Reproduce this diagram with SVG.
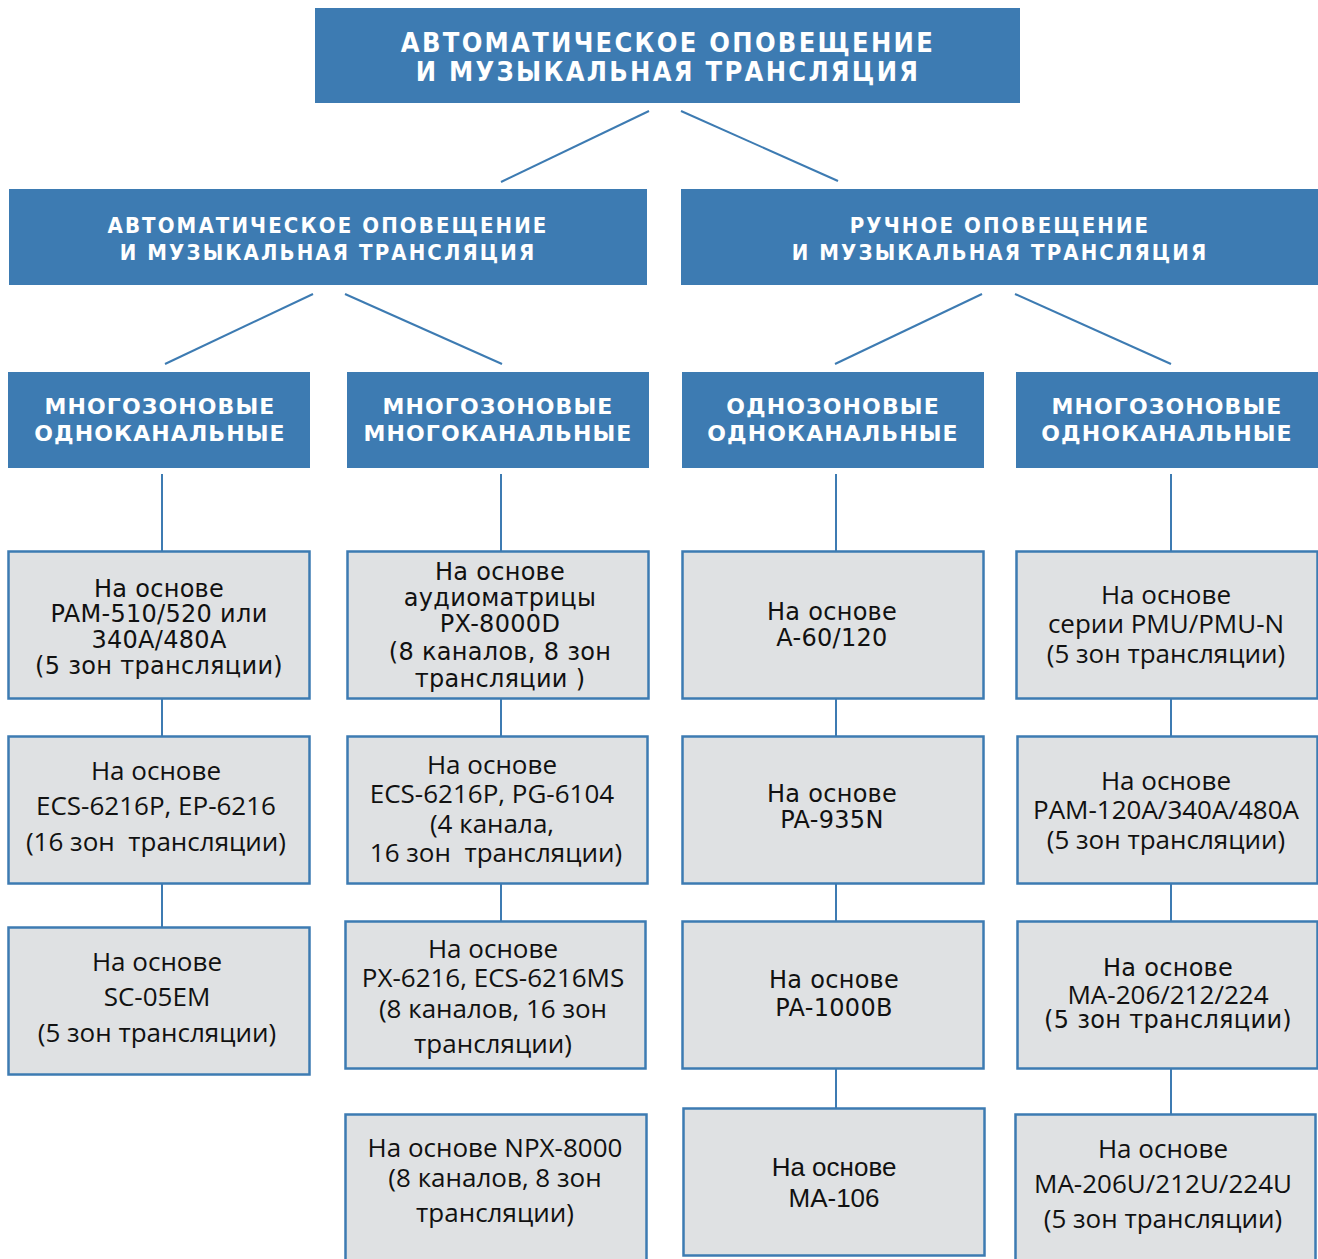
<svg xmlns="http://www.w3.org/2000/svg" width="1318" height="1259" viewBox="0 0 1318 1259">
  <style>
    .hdr { fill: #3d7bb2; }
    .card { fill: #dfe1e3; stroke: #3d7bb2; stroke-width: 2.5; }
    .link { stroke: #3d7bb2; stroke-width: 2; fill: none; }
    .t-top { font-family: "DejaVu Sans Condensed", "DejaVu Sans", sans-serif; font-weight: bold; font-size: 27px; letter-spacing: 2.3px; fill: #ffffff; text-anchor: middle; }
    .t-sec { font-family: "DejaVu Sans Condensed", "DejaVu Sans", sans-serif; font-weight: bold; font-size: 22px; letter-spacing: 2.1px; fill: #ffffff; text-anchor: middle; }
    .t-sub { font-family: "DejaVu Sans", sans-serif; font-weight: bold; font-size: 22px; letter-spacing: 1.1px; fill: #ffffff; text-anchor: middle; }
    .v { font-family: "DejaVu Sans", sans-serif; font-size: 24px; letter-spacing: 0.3px; fill: #111111; text-anchor: middle; white-space: pre; }
    .m { font-family: "Open Sans", "Noto Sans", sans-serif; font-size: 26px; fill: #111111; text-anchor: middle; white-space: pre; }
    .a { font-family: "Liberation Sans", Arial, sans-serif; font-size: 26px; fill: #111111; text-anchor: middle; }
  </style>

  <!-- connectors -->
  <g id="connectors">
    <line class="link" x1="649" y1="111" x2="501" y2="182"/>
    <line class="link" x1="681" y1="111" x2="838" y2="181"/>
    <line class="link" x1="313" y1="294" x2="165" y2="364"/>
    <line class="link" x1="345" y1="294" x2="502" y2="364"/>
    <line class="link" x1="982" y1="294" x2="835" y2="364"/>
    <line class="link" x1="1015" y1="294" x2="1171" y2="364"/>
    <!-- column 1 -->
    <line class="link" x1="162" y1="474" x2="162" y2="551"/>
    <line class="link" x1="162" y1="699" x2="162" y2="736"/>
    <line class="link" x1="162" y1="883" x2="162" y2="927"/>
    <!-- column 2 -->
    <line class="link" x1="501" y1="474" x2="501" y2="551"/>
    <line class="link" x1="501" y1="699" x2="501" y2="736"/>
    <line class="link" x1="501" y1="884" x2="501" y2="921"/>
    <!-- column 3 -->
    <line class="link" x1="836" y1="474" x2="836" y2="551"/>
    <line class="link" x1="836" y1="699" x2="836" y2="736"/>
    <line class="link" x1="836" y1="884" x2="836" y2="921"/>
    <line class="link" x1="836" y1="1069" x2="836" y2="1108"/>
    <!-- column 4 -->
    <line class="link" x1="1171" y1="474" x2="1171" y2="551"/>
    <line class="link" x1="1171" y1="699" x2="1171" y2="736"/>
    <line class="link" x1="1171" y1="884" x2="1171" y2="921"/>
    <line class="link" x1="1171" y1="1069" x2="1171" y2="1114"/>
  </g>

  <!-- root -->
  <g id="root">
    <rect class="hdr" x="315" y="8" width="705" height="95"/>
    <text class="t-top" x="668" y="52">АВТОМАТИЧЕСКОЕ ОПОВЕЩЕНИЕ</text>
    <text class="t-top" x="668" y="81">И МУЗЫКАЛЬНАЯ ТРАНСЛЯЦИЯ</text>
  </g>

  <!-- second level -->
  <g id="auto">
    <rect class="hdr" x="9" y="189" width="638" height="96"/>
    <text class="t-sec" x="328" y="233">АВТОМАТИЧЕСКОЕ ОПОВЕЩЕНИЕ</text>
    <text class="t-sec" x="328" y="260">И МУЗЫКАЛЬНАЯ ТРАНСЛЯЦИЯ</text>
  </g>
  <g id="manual">
    <rect class="hdr" x="681" y="189" width="637" height="96"/>
    <text class="t-sec" x="1000" y="233">РУЧНОЕ ОПОВЕЩЕНИЕ</text>
    <text class="t-sec" x="1000" y="260">И МУЗЫКАЛЬНАЯ ТРАНСЛЯЦИЯ</text>
  </g>

  <!-- third level -->
  <g id="auto-multi-single">
    <rect class="hdr" x="8" y="372" width="302" height="96"/>
    <text class="t-sub" x="160" y="414">МНОГОЗОНОВЫЕ</text>
    <text class="t-sub" x="160" y="441">ОДНОКАНАЛЬНЫЕ</text>
  </g>
  <g id="auto-multi-multi">
    <rect class="hdr" x="347" y="372" width="302" height="96"/>
    <text class="t-sub" x="498" y="414">МНОГОЗОНОВЫЕ</text>
    <text class="t-sub" x="498" y="441">МНОГОКАНАЛЬНЫЕ</text>
  </g>
  <g id="manual-single-single">
    <rect class="hdr" x="682" y="372" width="302" height="96"/>
    <text class="t-sub" x="833" y="414">ОДНОЗОНОВЫЕ</text>
    <text class="t-sub" x="833" y="441">ОДНОКАНАЛЬНЫЕ</text>
  </g>
  <g id="manual-multi-single">
    <rect class="hdr" x="1016" y="372" width="302" height="96"/>
    <text class="t-sub" x="1167" y="414">МНОГОЗОНОВЫЕ</text>
    <text class="t-sub" x="1167" y="441">ОДНОКАНАЛЬНЫЕ</text>
  </g>

  <!-- column 1 -->
  <g id="pam-510">
    <rect class="card" x="8.5" y="551.5" width="301" height="147"/>
    <text class="v" x="159" y="597">На основе</text>
    <text class="v" x="159" y="622">PAM-510/520 или</text>
    <text class="v" x="159" y="648">340A/480A</text>
    <text class="v" x="159" y="674">(5 зон трансляции)</text>
  </g>
  <g id="ecs-6216p-ep">
    <rect class="card" x="8.5" y="736.5" width="301" height="147"/>
    <text class="m" x="156" y="780">На основе</text>
    <text class="m" x="156" y="815">ECS-6216P, EP-6216</text>
    <text class="m" x="156" y="851">(16 зон  трансляции)</text>
  </g>
  <g id="sc-05em">
    <rect class="card" x="8.5" y="927.5" width="301" height="147"/>
    <text class="m" x="157" y="971">На основе</text>
    <text class="m" x="157" y="1006">SC-05EM</text>
    <text class="m" x="157" y="1042">(5 зон трансляции)</text>
  </g>

  <!-- column 2 -->
  <g id="px-8000d">
    <rect class="card" x="347.5" y="551.5" width="301" height="147"/>
    <text class="v" x="500" y="580">На основе</text>
    <text class="v" x="500" y="606">аудиоматрицы</text>
    <text class="v" x="500" y="632">PX-8000D</text>
    <text class="v" x="500" y="660">(8 каналов, 8 зон</text>
    <text class="v" x="500" y="687">трансляции )</text>
  </g>
  <g id="ecs-6216p-pg">
    <rect class="card" x="347.5" y="736.5" width="300" height="147"/>
    <text class="m" x="492" y="774">На основе</text>
    <text class="m" x="492" y="803">ECS-6216P, PG-6104</text>
    <text class="m" x="492" y="833">(4 канала,</text>
    <text class="m" x="496" y="862">16 зон  трансляции)</text>
  </g>
  <g id="px-6216">
    <rect class="card" x="345.5" y="921.5" width="300" height="147"/>
    <text class="m" x="493" y="958">На основе</text>
    <text class="m" x="493" y="987">PX-6216, ECS-6216MS</text>
    <text class="m" x="493" y="1018">(8 каналов, 16 зон</text>
    <text class="m" x="493" y="1053">трансляции)</text>
  </g>
  <g id="npx-8000">
    <rect class="card" x="345.5" y="1114.5" width="301" height="150"/>
    <text class="m" x="495" y="1157">На основе NPX-8000</text>
    <text class="m" x="495" y="1187">(8 каналов, 8 зон</text>
    <text class="m" x="495" y="1222">трансляции)</text>
  </g>

  <!-- column 3 -->
  <g id="a-60">
    <rect class="card" x="682.5" y="551.5" width="301" height="147"/>
    <text class="v" x="832" y="620">На основе</text>
    <text class="v" x="832" y="646">A-60/120</text>
  </g>
  <g id="pa-935n">
    <rect class="card" x="682.5" y="736.5" width="301" height="147"/>
    <text class="v" x="832" y="802">На основе</text>
    <text class="v" x="832" y="828">PA-935N</text>
  </g>
  <g id="pa-1000b">
    <rect class="card" x="682.5" y="921.5" width="301" height="147"/>
    <text class="v" x="834" y="988">На основе</text>
    <text class="v" x="834" y="1016">PA-1000B</text>
  </g>
  <g id="ma-106">
    <rect class="card" x="683.5" y="1108.5" width="301" height="147"/>
    <text class="a" x="834" y="1176">На основе</text>
    <text class="a" x="834" y="1207">MA-106</text>
  </g>

  <!-- column 4 -->
  <g id="pmu">
    <rect class="card" x="1016.5" y="551.5" width="301" height="147"/>
    <text class="m" x="1166" y="604">На основе</text>
    <text class="m" x="1166" y="633">серии PMU/PMU-N</text>
    <text class="m" x="1166" y="663">(5 зон трансляции)</text>
  </g>
  <g id="pam-120a">
    <rect class="card" x="1017.5" y="736.5" width="300" height="147"/>
    <text class="m" x="1166" y="790">На основе</text>
    <text class="m" x="1166" y="819">PAM-120A/340A/480A</text>
    <text class="m" x="1166" y="849">(5 зон трансляции)</text>
  </g>
  <g id="ma-206">
    <rect class="card" x="1017.5" y="921.5" width="300" height="147"/>
    <text class="v" x="1168" y="976">На основе</text>
    <text class="m" x="1168" y="1004">MA-206/212/224</text>
    <text class="v" x="1168" y="1028">(5 зон трансляции)</text>
  </g>
  <g id="ma-206u">
    <rect class="card" x="1015.5" y="1114.5" width="300" height="150"/>
    <text class="m" x="1163" y="1158">На основе</text>
    <text class="m" x="1163" y="1193">MA-206U/212U/224U</text>
    <text class="m" x="1163" y="1228">(5 зон трансляции)</text>
  </g>
</svg>
